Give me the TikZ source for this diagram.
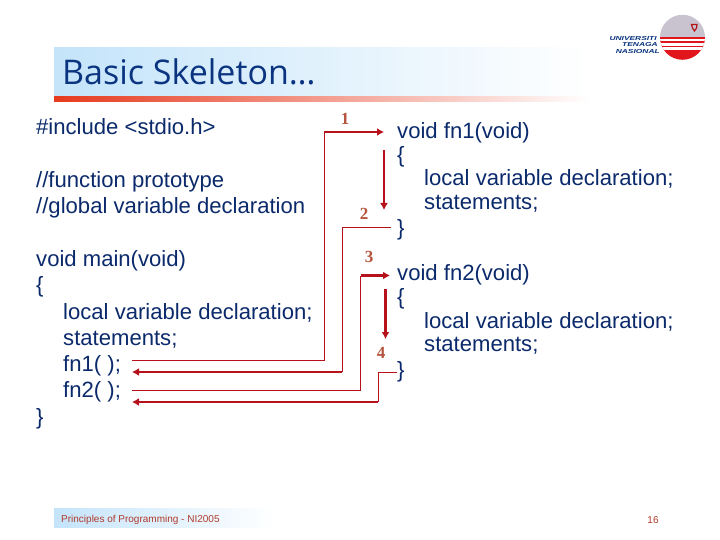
\documentclass[tikz,border=0pt]{standalone}
\usepackage{fontspec}
\setmainfont{Liberation Sans}
\newfontfamily\titlefont{Open Sans}
\newfontfamily\numfont{Liberation Serif}
\usetikzlibrary{arrows.meta}
\definecolor{codeblue}{HTML}{0B2A6B}
\definecolor{titleblue}{HTML}{0A3480}
\definecolor{wire}{HTML}{B5121B}
\definecolor{numred}{HTML}{B5533C}
\definecolor{bandblue}{HTML}{C4E4FA}
\definecolor{barred}{HTML}{E63A1E}
\definecolor{footred}{HTML}{B03A2A}
\definecolor{logogrey}{HTML}{C9C3CF}
\definecolor{logored}{HTML}{E0161C}
\tikzset{
  code/.style={anchor=base west,inner sep=0pt,yshift=-0.8pt,text=codeblue,font=\fontsize{22.1}{26}\selectfont},
  num/.style={anchor=center,inner sep=0pt,text=numred,font=\numfont\bfseries\fontsize{17}{20}\selectfont},
  thinwire/.style={draw=wire,line width=1pt},
  thickwire/.style={draw=wire,line width=2.2pt,-{Latex[length=7pt,width=8pt]}},
  logotext/.style={anchor=base east,inner sep=0pt,xscale=1.45,transform shape,text=titleblue,font=\bfseries\itshape\fontsize{5.8}{6}\selectfont},
}
\begin{document}
\begin{tikzpicture}[x=1pt,y=-1pt]
\useasboundingbox (0,0) rectangle (720,540);
\fill[white] (0,0) rectangle (720,540);
% title band
\shade[left color=bandblue,right color=white] (54,48) rectangle (590,97);
\shade[left color=barred,right color=white] (54,97) rectangle (590,102);
\node[anchor=base west,inner sep=0pt,text=titleblue,font=\titlefont\fontsize{34}{40}\selectfont] (title) at (62,85) {Basic Skeleton…};
% footer band
\shade[left color=bandblue,right color=white] (54,508) rectangle (275,527);
\node[anchor=base west,inner sep=0pt,text=footred,font=\fontsize{10}{12}\selectfont] (foot) at (61,522) {Principles of Programming - NI2005};
\node[anchor=base,inner sep=0pt,text=footred,font=\fontsize{10}{12}\selectfont] (page) at (653,523) {16};
% logo
\begin{scope}
\clip (682.5,37.3) circle (22.5);
\fill[logogrey] (659,14) rectangle (706,37);
\fill[logored] (659,37) rectangle (706,61);
\fill[white] (659,39) rectangle (706,41.5);
\fill[white] (659,43) rectangle (706,46);
\fill[white] (659,47.5) rectangle (706,50);
\end{scope}
\draw[logored!80!black,line width=1.2pt] (691.5,24.5) -- (697,24.5) -- (696.5,28) -- (694.5,31) -- (692.5,28) -- cycle;
\node[logotext] (l1) at (657,41) {UNIVERSITI};
\node[logotext] (l2) at (658,47) {TENAGA};
\node[logotext] (l3) at (660,53.5) {NASIONAL};
% left code
\node[code] (a1) at (36,134) {\#include <stdio.h>};
\node[code] (a2) at (36,187) {//function prototype};
\node[code] (a3) at (36,213) {//global variable declaration};
\node[code] (a4) at (36,266) {void main(void)};
\node[code] (a5) at (36,292) {\{};
\node[code] (a6) at (63,319) {local variable declaration;};
\node[code] (a7) at (63,345) {statements;};
\node[code] (a8) at (63,371) {fn1( );};
\node[code] (a9) at (63,397) {fn2( );};
\node[code] (a10) at (36,424) {\}};
% right code
\node[code] (b1) at (397,138) {void fn1(void)};
\node[code] (b2) at (397,162) {\{};
\node[code] (b3) at (424,185) {local variable declaration;};
\node[code] (b4) at (424,209) {statements;};
\node[code] (b5) at (397,235) {\}};
\node[code] (c1) at (397,280) {void fn2(void)};
\node[code] (c2) at (397,304) {\{};
\node[code] (c3) at (424,328) {local variable declaration;};
\node[code] (c4) at (424,351) {statements;};
\node[code] (c5) at (397,377) {\}};
% numbers
\node[num] (n1) at (345,119) {1};
\node[num] (n2) at (364,214) {2};
\node[num] (n3) at (369,257) {3};
\node[num] (n4) at (381,353) {4};
% connector ends
\coordinate (p1s) at (132,360);
\coordinate (p1c) at (324,360);
\coordinate (p1d) at (324,132);
\coordinate (p1e) at (384,132);
\coordinate (v1s) at (384,150);
\coordinate (v1e) at (384,210);
\coordinate (p2s) at (391,228);
\coordinate (p2c) at (342,228);
\coordinate (p2d) at (342,372);
\coordinate (p2e) at (132,372);
\coordinate (p3s) at (132,390);
\coordinate (p3c) at (360.5,390);
\coordinate (p3d) at (360.5,275.5);
\coordinate (p3e) at (390,275.5);
\coordinate (v2s) at (385.5,289);
\coordinate (v2e) at (385.5,339);
\coordinate (p4s) at (397,372.5);
\coordinate (p4c) at (378,372.5);
\coordinate (p4d) at (378,402);
\coordinate (p4e) at (132,402);
\draw[thinwire] (p1s) -- (p1c) -- (p1d);
\draw[thickwire] (p1d) -- (p1e);
\draw[thickwire] (v1s) -- (v1e);
\draw[thinwire] (p2s) -- (p2c) -- (p2d);
\draw[thickwire] (p2d) -- (p2e);
\draw[thinwire] (p3s) -- (p3c) -- (p3d);
\draw[thickwire] (p3d) -- (p3e);
\draw[thickwire] (v2s) -- (v2e);
\draw[thinwire] (p4s) -- (p4c) -- (p4d);
\draw[thickwire] (p4d) -- (p4e);
\end{tikzpicture}
\end{document}
